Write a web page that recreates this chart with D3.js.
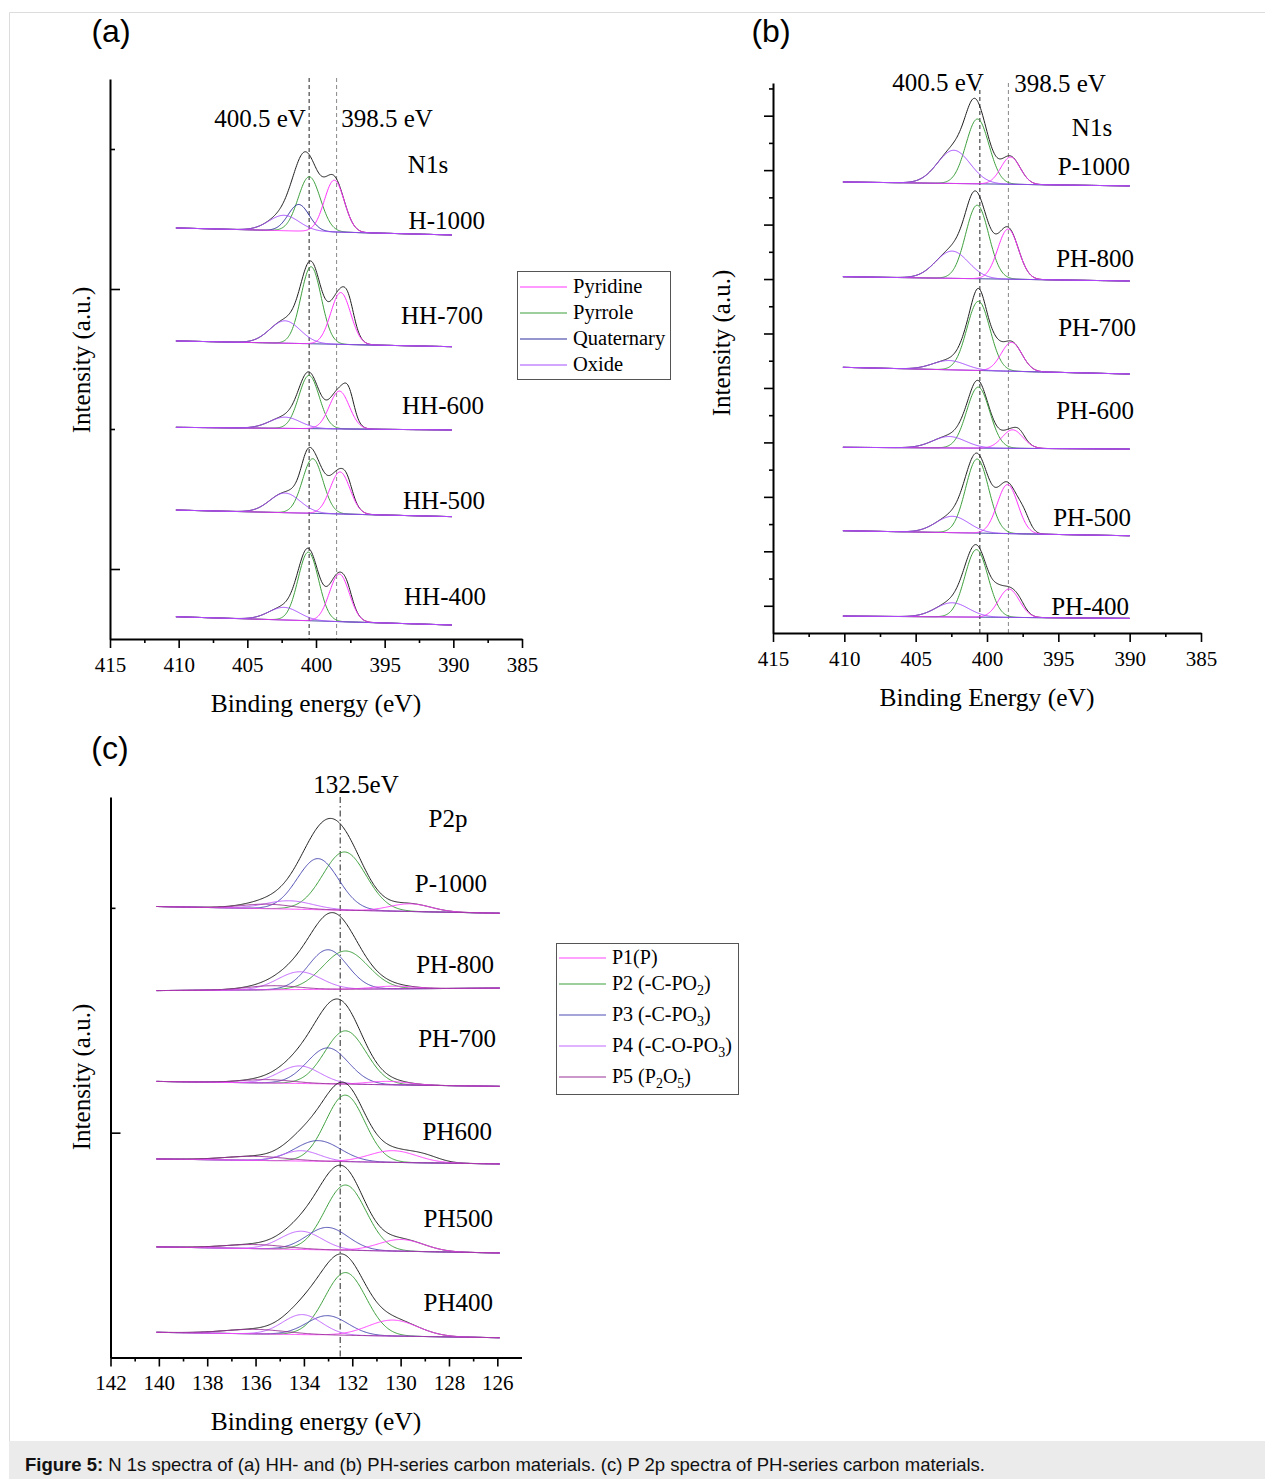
<!DOCTYPE html>
<html lang="en">
<head>
<meta charset="UTF-8">
<title>Figure 5 - N 1s and P 2p spectra</title>
<style>
  body { margin: 0; background: #fff; }
  svg { display: block; }
</style>
</head>
<body>
<div id="chart"></div>
<script src="https://d3js.org/d3.v7.min.js"></script>
<script>
// ---------- data ----------
// every peak is [centre (eV), height (a.u.), FWHM (eV)]
// background is [intensity at left end, intensity at right end]

// (a) N 1s, HH series
const aSamples = ["H-1000", "HH-700", "HH-600", "HH-500", "HH-400"];
const aBackground = [[2.436, 2.386], [1.629, 1.588], [1.012, 0.993], [0.421, 0.374], [-0.341, -0.400]];
const aPyridine = [[398.67, 0.37, 1.7], [398.2, 0.37, 1.7], [398.3, 0.27, 1.7], [398.25, 0.30, 1.7], [398.3, 0.34, 1.7]];
const aPyrrole = [[400.49, 0.39, 1.9], [400.36, 0.55, 1.75], [400.51, 0.38, 1.75], [400.24, 0.39, 1.75], [400.56, 0.49, 1.75]];
const aQuaternary = [[401.26, 0.19, 1.8], [401.2, 0, 1.8], [401.2, 0, 1.8], [401.2, 0, 1.8], [401.2, 0, 1.8]];
const aOxide = [[402.33, 0.11, 2.6], [402.26, 0.16, 2.6], [402.26, 0.08, 2.6], [402.26, 0.14, 2.6], [402.33, 0.09, 2.6]];
// measured signal not covered by the fit (only in the black envelope)
const aResidual = [
  [],
  [[397.6, 0.09, 0.9]],
  [[397.6, 0.13, 0.9]],
  [[400.7, 0.07, 0.9], [397.7, 0.05, 0.8]],
  [[397.7, 0.04, 0.8]]
];

// (b) N 1s, PH series
const bSamples = ["P-1000", "PH-800", "PH-700", "PH-600", "PH-500", "PH-400"];
const bBackground = [[7.783, 7.710], [6.043, 5.964], [4.379, 4.256], [2.910, 2.878], [1.378, 1.286], [-0.189, -0.231]];
const bPyridine = [[398.35, 0.50, 1.6], [398.52, 0.92, 1.7], [398.28, 0.53, 1.7], [398.21, 0.34, 1.7], [398.56, 0.90, 1.7], [398.46, 0.52, 1.7]];
const bPyrrole = [[400.67, 1.19, 1.9], [400.69, 1.35, 1.9], [400.60, 1.27, 1.9], [400.62, 1.12, 1.9], [400.69, 1.36, 1.9], [400.74, 1.24, 1.9]];
const bQuaternary = [[401.5, 0, 1.8], [401.5, 0, 1.8], [401.5, 0, 1.8], [401.5, 0, 1.8], [401.5, 0, 1.8], [401.5, 0, 1.8]];
const bOxide = [[402.33, 0.61, 2.7], [402.45, 0.50, 2.7], [402.66, 0.17, 2.7], [402.66, 0.21, 2.7], [402.42, 0.30, 2.7], [402.45, 0.26, 2.7]];
const bResidual = [
  [[401.0, 0.15, 1.1]],
  [[401.0, 0.10, 1.0]],
  [[400.6, 0.20, 0.9], [399.3, 0.06, 0.9]],
  [[400.7, 0.08, 0.9], [397.7, 0.08, 0.8]],
  [[397.4, 0.22, 1.0]],
  [[399.3, 0.10, 0.9], [397.7, 0.07, 0.9]]
];

// (c) P 2p, PH series
const cSamples = ["P-1000", "PH-800", "PH-700", "PH600", "PH500", "PH400"];
const cBackground = [[1.006, 0.976], [0.632, 0.643], [0.228, 0.206], [-0.117, -0.139], [-0.508, -0.535], [-0.888, -0.912]];
const cP1 = [[129.6, 0.034, 2.0], [130.3, 0.012, 2.0], [130.5, 0.015, 2.0], [130.32, 0.052, 2.3], [129.97, 0.052, 2.2], [130.32, 0.071, 2.4]];
const cP2 = [[132.32, 0.259, 2.1], [132.28, 0.170, 2.2], [132.28, 0.237, 2.0], [132.29, 0.296, 1.9], [132.28, 0.290, 2.0], [132.28, 0.279, 2.0]];
const cP3 = [[133.42, 0.227, 2.0], [133.01, 0.176, 1.9], [133.01, 0.160, 2.0], [133.42, 0.092, 2.2], [133.03, 0.100, 2.0], [133.03, 0.086, 2.0]];
const cP4 = [[134.6, 0.037, 2.3], [134.18, 0.079, 2.1], [134.18, 0.078, 2.0], [134.11, 0.046, 1.8], [134.11, 0.081, 2.0], [134.07, 0.089, 1.9]];
const cP5 = [[135.5, 0.020, 2.5], [135.3, 0.018, 2.5], [135.5, 0.015, 2.5], [136.0, 0.018, 3.0], [136.0, 0.018, 3.0], [136.0, 0.020, 3.0]];
const cResidual = [[], [], [], [[129.0, 0.02, 1.5]], [], []];

// ---------- drawing ----------
const serif = '"Liberation Serif", "Times New Roman", serif';
const sans = '"Liberation Sans", Arial, sans-serif';

const svg = d3.select("#chart").append("svg")
  .attr("width", 1265)
  .attr("height", 1479);

// frame and caption band
svg.append("path")
  .attr("d", "M9.5,1441 V12.5 H1265")
  .attr("fill", "none").attr("stroke", "#dcdcdc");
svg.append("rect")
  .attr("x", 9).attr("y", 1441).attr("width", 1256).attr("height", 38)
  .attr("fill", "#ebebeb");
const cap = svg.append("text")
  .attr("x", 25).attr("y", 1471)
  .attr("font-family", sans).attr("font-size", 18.5).attr("fill", "#111");
cap.append("tspan").attr("font-weight", "bold").text("Figure 5:");
cap.append("tspan").text(" N 1s spectra of (a) HH- and (b) PH-series carbon materials. (c) P 2p spectra of PH-series carbon materials.");

function gauss(E, p) {
  return p[1] * Math.exp(-4 * Math.LN2 * ((E - p[0]) / p[2]) ** 2);
}

function drawPanel(cfg) {
  const g = svg.append("g");
  const x = d3.scaleLinear().domain(cfg.xDomain).range(cfg.xRange);
  const y = d3.scaleLinear().domain(cfg.yDomain).range(cfg.yRange);
  const axisY = cfg.yRange[0];
  const line = d3.line().x(d => x(d[0])).y(d => y(d[1]));
  const grid = d3.range(0, 401).map(k => cfg.span[0] + (cfg.span[1] - cfg.span[0]) * k / 400);

  // reference lines
  cfg.refs.forEach(r => {
    g.append("line")
      .attr("x1", x(r.e)).attr("x2", x(r.e))
      .attr("y1", r.top).attr("y2", axisY)
      .attr("stroke", r.color).attr("stroke-width", 1)
      .attr("stroke-dasharray", r.dash);
  });

  // spectra
  cfg.samples.forEach((name, i) => {
    const b = cfg.background[i];
    const bg = E => b[0] + (b[1] - b[0]) * (E - cfg.span[0]) / (cfg.span[1] - cfg.span[0]);
    const peaks = cfg.components.map(c => c.values[i]).concat(cfg.residual[i]);
    const env = grid.map(E => [E, bg(E) + d3.sum(peaks, p => gauss(E, p))]);
    g.append("path").attr("d", line(env))
      .attr("fill", "none").attr("stroke", "#1e1e1e").attr("stroke-width", 1);
    cfg.drawOrder.forEach(k => {
      const c = cfg.components[k];
      const p = c.values[i];
      g.append("path").attr("d", line(grid.map(E => [E, bg(E) + gauss(E, p)])))
        .attr("fill", "none").attr("stroke", c.color).attr("stroke-width", 1);
    });
    g.append("text")
      .attr("x", cfg.labelX[i]).attr("y", cfg.labelY[i])
      .attr("text-anchor", "end")
      .attr("font-family", serif).attr("font-size", 25)
      .text(name);
  });

  // x axis
  const xMajor = d3.axisBottom(x).tickValues(cfg.xMajor).tickSize(9).tickSizeOuter(0)
    .tickPadding(9).tickFormat(d3.format("d"));
  const xMinor = d3.axisBottom(x).tickValues(cfg.xMinor).tickSize(4).tickSizeOuter(0).tickFormat("");
  const gx = g.append("g").attr("transform", `translate(0,${axisY})`).call(xMajor);
  g.append("g").attr("transform", `translate(0,${axisY})`).call(xMinor).select(".domain").remove();
  gx.selectAll("text").attr("font-family", serif).attr("font-size", 21).attr("fill", "#000");

  // y axis
  const side = cfg.yOut ? d3.axisLeft : d3.axisRight;
  const yMajor = side(y).tickValues(cfg.yMajor).tickSize(cfg.yOut ? 9 : 10).tickSizeOuter(0).tickFormat("");
  const yMinor = side(y).tickValues(cfg.yMinor).tickSize(cfg.yOut ? 4 : 5).tickSizeOuter(0).tickFormat("");
  g.append("g").attr("transform", `translate(${cfg.xRange[0]},0)`).call(yMajor);
  g.append("g").attr("transform", `translate(${cfg.xRange[0]},0)`).call(yMinor).select(".domain").remove();

  g.selectAll(".domain").attr("stroke", "#000").attr("stroke-width", 2);
  g.selectAll(".tick line").attr("stroke", "#000").attr("stroke-width", 1.6);

  // texts
  g.append("text")
    .attr("x", cfg.panel[0]).attr("y", cfg.panel[1]).attr("text-anchor", "middle")
    .attr("font-family", sans).attr("font-size", 32).text(cfg.panel[2]);
  g.append("text")
    .attr("transform", `translate(${cfg.yTitle[0]},${cfg.yTitle[1]}) rotate(-90)`)
    .attr("text-anchor", "middle")
    .attr("font-family", serif).attr("font-size", 25).text("Intensity (a.u.)");
  g.append("text")
    .attr("x", cfg.xTitle[0]).attr("y", cfg.xTitle[1]).attr("text-anchor", "middle")
    .attr("font-family", serif).attr("font-size", 25.5).text(cfg.xTitle[2]);
  cfg.notes.forEach(n => {
    g.append("text")
      .attr("x", n[0]).attr("y", n[1]).attr("text-anchor", "middle")
      .attr("font-family", serif).attr("font-size", 25).text(n[2]);
  });

  // legend
  const L = cfg.legend;
  if (!L) return;
  g.append("rect")
    .attr("x", L.x + 0.5).attr("y", L.y + 0.5).attr("width", L.w).attr("height", L.h)
    .attr("fill", "#fff").attr("stroke", "#555").attr("stroke-width", 1);
  L.rows.forEach((row, k) => {
    const c = cfg.components[k];
    g.append("line")
      .attr("x1", L.x + 3).attr("x2", L.x + 50)
      .attr("y1", row).attr("y2", row)
      .attr("stroke", c.color).attr("stroke-width", 1.2);
    const t = g.append("text")
      .attr("x", L.x + 56).attr("y", row + 6)
      .attr("font-family", serif).attr("font-size", L.size);
    // "_" marks the next character as a subscript
    let down = false;
    c.name.split(/(_.)/).filter(s => s.length).forEach(s => {
      if (s[0] === "_") {
        t.append("tspan").attr("dy", 5).attr("font-size", L.size * 0.7).text(s[1]);
        down = true;
      } else {
        t.append("tspan").attr("dy", down ? -5 : 0).text(s);
        down = false;
      }
    });
  });
}

const nColors = { pyridine: "#ff33ff", pyrrole: "#3c9f3c", quaternary: "#2e2e9e", oxide: "#a64dff" };

drawPanel({
  samples: aSamples, background: aBackground, residual: aResidual,
  components: [
    { name: "Pyridine", color: nColors.pyridine, values: aPyridine },
    { name: "Pyrrole", color: nColors.pyrrole, values: aPyrrole },
    { name: "Quaternary", color: nColors.quaternary, values: aQuaternary },
    { name: "Oxide", color: nColors.oxide, values: aOxide }
  ],
  drawOrder: [1, 2, 0, 3],
  span: [410.2, 390.1],
  xDomain: [415, 385], xRange: [110, 522],
  yDomain: [-0.5, 3.5], yRange: [639, 79],
  xMajor: d3.range(415, 384, -5), xMinor: d3.range(412.5, 386, -5),
  yMajor: [0, 2], yMinor: [1, 3], yOut: false,
  refs: [
    { e: 400.5, top: 78, color: "#222", dash: "4,3" },
    { e: 398.5, top: 78, color: "#888", dash: "4,3" }
  ],
  labelX: [485, 483, 484, 485, 486], labelY: [229, 324, 414, 509, 605],
  notes: [[260, 127, "400.5 eV"], [387, 127, "398.5 eV"], [428, 173, "N1s"]],
  panel: [111, 42, "(a)"], yTitle: [90, 360], xTitle: [316, 712, "Binding energy (eV)"],
  legend: { x: 517, y: 271, w: 153, h: 108, rows: [287, 313, 339, 365], size: 20.5 }
});

drawPanel({
  samples: bSamples, background: bBackground, residual: bResidual,
  components: [
    { name: "Pyridine", color: nColors.pyridine, values: bPyridine },
    { name: "Pyrrole", color: nColors.pyrrole, values: bPyrrole },
    { name: "Quaternary", color: nColors.quaternary, values: bQuaternary },
    { name: "Oxide", color: nColors.oxide, values: bOxide }
  ],
  drawOrder: [1, 2, 0, 3],
  span: [410.1, 390.0],
  xDomain: [415, 385], xRange: [773, 1201],
  yDomain: [-0.5, 9.6], yRange: [633, 83],
  xMajor: d3.range(415, 384, -5), xMinor: d3.range(412.5, 386, -5),
  yMajor: d3.range(0, 10), yMinor: d3.range(0.5, 9.6, 1), yOut: true,
  refs: [
    { e: 400.5, top: 90, color: "#222", dash: "4,3" },
    { e: 398.5, top: 83, color: "#888", dash: "4,3" }
  ],
  labelX: [1130, 1134, 1136, 1134, 1131, 1129], labelY: [175, 267, 336, 419, 526, 615],
  notes: [[938, 91, "400.5 eV"], [1060, 92, "398.5 eV"], [1092, 136, "N1s"]],
  panel: [771, 42, "(b)"], yTitle: [730, 343], xTitle: [987, 706, "Binding Energy (eV)"],
  legend: null
});

drawPanel({
  samples: cSamples, background: cBackground, residual: cResidual,
  components: [
    { name: "P1(P)", color: "#ff44ff", values: cP1 },
    { name: "P2 (-C-PO_2)", color: "#3c9f3c", values: cP2 },
    { name: "P3 (-C-PO_3)", color: "#4d4db3", values: cP3 },
    { name: "P4 (-C-O-PO_3)", color: "#c266ff", values: cP4 },
    { name: "P5 (P_2O_5)", color: "#993399", values: cP5 }
  ],
  drawOrder: [1, 2, 3, 0, 4],
  span: [140.1, 125.9],
  xDomain: [142, 125], xRange: [110.5, 521.5],
  yDomain: [-1, 1.493], yRange: [1357.5, 797],
  xMajor: d3.range(142, 125, -2), xMinor: d3.range(141, 125, -2),
  yMajor: [0], yMinor: [1], yOut: false,
  refs: [
    { e: 132.5, top: 797, color: "#222", dash: "6,3,1.5,3" }
  ],
  labelX: [487, 494, 496, 492, 493, 493], labelY: [892, 973, 1047, 1140, 1227, 1311],
  notes: [[356, 793, "132.5eV"], [448, 827, "P2p"]],
  panel: [110, 759, "(c)"], yTitle: [90, 1077], xTitle: [316, 1430, "Binding energy (eV)"],
  legend: { x: 556, y: 943, w: 182, h: 151, rows: [958, 984, 1015, 1046, 1077], size: 20 }
});
</script>
</body>
</html>
